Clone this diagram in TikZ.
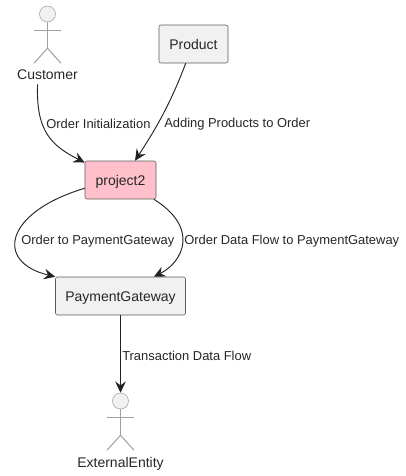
\documentclass[tikz,border=0pt]{standalone}
\usepackage{fontspec}
\setmainfont{Liberation Sans}
\usepackage{xcolor}
\usetikzlibrary{arrows.meta}
\definecolor{boxgray}{HTML}{F1F1F1}
\definecolor{boxpink}{HTML}{FFC0CB}
\definecolor{boxline}{HTML}{5A5A5A}
\definecolor{limbline}{HTML}{A0A0A0}
\definecolor{flowline}{HTML}{222222}
\tikzset{
	block/.style = {draw=boxline, fill=boxgray, rectangle, rounded corners=1.5pt, minimum height=28.5pt, text height=10.5pt, text depth=2pt, text=black!85, font=\fontsize{10.5}{12}\selectfont},
	actorhead/.style = {draw=limbline, fill=boxgray, circle, inner sep=0pt, minimum size=12pt},
	limb/.style = {draw=limbline, line width=0.75pt},
	actorname/.style = {minimum height=13.5pt, minimum width=46pt, inner sep=0pt, text=black!85, font=\fontsize{10.5}{12}\selectfont},
	flowlabel/.style = {anchor=west, inner sep=0pt, text=black!85, font=\fontsize{9.7}{11}\selectfont},
	flow/.style = {->, draw=flowline, line width=0.7pt, >={Stealth[length=8.5pt, width=8pt, inset=3pt]}}
}
\begin{document}
\begin{tikzpicture}[x=0.75pt, y=-0.75pt]
	\useasboundingbox (0,0) rectangle (406,476);
	\node [actorhead] (customerhead) at (47.5,14) {};
	\node [actorname] (customer) at (47.5,75) {Customer};
	\node [block, minimum width=51.75pt] (product) at (193.5,44) {Product};
	\node [block, minimum width=53.25pt, fill=boxpink] (project2) at (120.5,180) {project2};
	\node [block, minimum width=97.5pt] (gateway) at (120.5,296) {PaymentGateway};
	\node [actorhead] (externalhead) at (120.5,401) {};
	\node [actorname] (external) at (120.5,464) {ExternalEntity};

	\node [flowlabel] (initlabel) at (46,124) {Order Initialization};
	\node [flowlabel] (addlabel) at (164,124) {Adding Products to Order};
	\node [flowlabel] (orderlabel) at (21,241) {Order to PaymentGateway};
	\node [flowlabel] (datalabel) at (184,241) {Order Data Flow to PaymentGateway};
	\node [flowlabel] (translabel) at (122,356) {Transaction Data Flow};

	\foreach \actor in {customerhead,externalhead} {
		\draw [limb] (\actor.south) -- ++(0,26) coordinate (\actor hip);
		\draw [limb] (\actor hip) -- ++(-13.5,15);
		\draw [limb] (\actor hip) -- ++(13.5,15);
		\draw [limb] ([shift={(-13.5,8)}]\actor.south) -- ++(27,0);
	}

	\draw [flow] (customer.223) .. controls (36,130) and (50,145) .. (project2.154);
	\draw [flow] (product.248) .. controls (170,105) and (155,130) .. (project2.53);
	\draw [flow] (project2.193) .. controls (5,212) and (-6,262) .. (gateway.north west);
	\draw [flow] (project2.-30) .. controls (200,228) and (183,262) .. (gateway.30);
	\draw [flow] (gateway.south) -- (externalhead.north);
\end{tikzpicture}
\end{document}
